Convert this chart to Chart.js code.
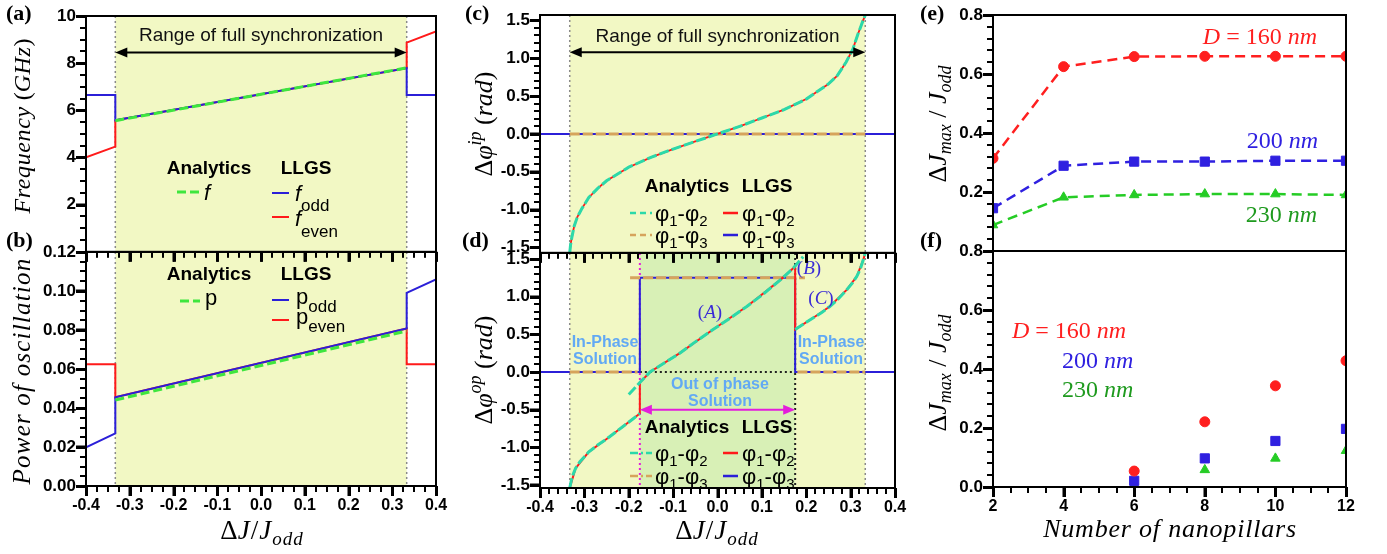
<!DOCTYPE html>
<html>
<head>
<meta charset="utf-8">
<title>Synchronization of nanopillar oscillators</title>
<script src="https://cdn.jsdelivr.net/npm/chart.js@4.4.1/dist/chart.umd.min.js"></script>
<style>
  html, body { margin: 0; padding: 0; background: #fff; }
  #wrap { position: relative; width: 1387px; height: 554px; overflow: hidden; }
  canvas { position: absolute; }
</style>
</head>
<body>
<div id="wrap">
  <canvas id="pb"></canvas><canvas id="pa"></canvas>
  <canvas id="pd"></canvas><canvas id="pc"></canvas>
  <canvas id="pf"></canvas><canvas id="pe"></canvas>
</div>
<script>
// ---------- values ----------
const syncEdge = 0.333;          // edge of the full synchronization range
const oppEdge = 0.175;           // edge of the out-of-phase solution

// (a) frequency (GHz)
const stepX  = [-0.4, -0.333, -0.333, 0.333, 0.333, 0.4];
const fOdd   = [6.65, 6.65, 5.58, 7.79, 6.65, 6.65];
const fEven  = [4.01, 4.46, 5.58, 7.79, 8.87, 9.35];
const anaX   = [-0.333, 0.333];
const fAna   = [5.56, 7.80];

// (b) power of oscillation
const pOdd   = [0.0198, 0.027, 0.0455, 0.0808, 0.099, 0.106];
const pEven  = [0.0625, 0.0625, 0.0455, 0.0808, 0.0625, 0.0625];
const pAna   = [0.0441, 0.0795];

// (c) in-phase phase difference (rad)
const phiXc  = [-0.333, -0.331, -0.328, -0.323, -0.316, -0.305, -0.29, -0.27, -0.25, -0.225, -0.2, -0.15, -0.1, -0.05, 0,
                0.05, 0.1, 0.15, 0.2, 0.225, 0.25, 0.27, 0.29, 0.305, 0.316, 0.323, 0.328, 0.331, 0.333];
const phi12c = [-1.57, -1.46, -1.36, -1.22, -1.10, -0.98, -0.84, -0.72, -0.62, -0.53, -0.44, -0.31, -0.20, -0.10, 0,
                0.10, 0.21, 0.32, 0.46, 0.56, 0.66, 0.77, 0.95, 1.12, 1.31, 1.42, 1.50, 1.54, 1.57];
const flatX  = [-0.4, 0.4];
const flat0  = [0, 0];

// (d) out-of-phase phase difference (rad), analytic branches
const leftX  = [-0.333, -0.328, -0.32, -0.31, -0.29, -0.27, -0.25, -0.23, -0.21, -0.19, -0.175];
const leftY  = [-1.54, -1.40, -1.28, -1.19, -1.06, -0.97, -0.89, -0.80, -0.71, -0.62, -0.55];
const brAX   = [-0.2, -0.175, -0.152, -0.12, -0.085, -0.05, -0.01, 0.03, 0.066, 0.10, 0.141, 0.171, 0.193];
const brAY   = [-0.30, -0.14, 0, 0.12, 0.25, 0.40, 0.565, 0.72, 0.87, 1.02, 1.22, 1.38, 1.53];
const brCX   = [0.175, 0.2, 0.216, 0.235, 0.253, 0.272, 0.291, 0.305, 0.314, 0.322, 0.329, 0.333];
const brCY   = [0.565, 0.66, 0.72, 0.79, 0.87, 0.97, 1.09, 1.19, 1.27, 1.37, 1.50, 1.58];
// (d) LLGS phi1-phi2
const llgsX  = [-0.333, -0.32, -0.29, -0.25, -0.21, -0.175, -0.175, -0.152, -0.085, -0.01, 0.066, 0.141, 0.175, 0.175, 0.216, 0.253, 0.291, 0.314, 0.329, 0.333];
const llgsY  = [-1.54, -1.28, -1.06, -0.89, -0.71, -0.55, -0.14, 0, 0.25, 0.565, 0.87, 1.22, 1.40, 0.565, 0.72, 0.87, 1.09, 1.27, 1.50, 1.58];
// (d) phi1-phi3
const p13X   = [-0.4, -0.175, -0.175, 0.175, 0.175, 0.4];
const p13Y   = [0, 0, 1.25, 1.25, 0, 0];
const tanLX  = [-0.333, -0.18];
const tanMX  = [-0.197, 0.197];
const tanRX  = [0.18, 0.333];
const tanMY  = [1.25, 1.25];

// (e) synchronized range vs number of nanopillars
const pillars = [2, 4, 6, 8, 10, 12];
const e160 = [0.314, 0.625, 0.659, 0.66, 0.66, 0.66];
const e200 = [0.145, 0.289, 0.303, 0.303, 0.306, 0.306];
const e230 = [0.088, 0.182, 0.19, 0.193, 0.193, 0.19];
// (f)
const pillarsF = [6, 8, 10, 12];
const f160 = [0.054, 0.221, 0.343, 0.428];
const f200 = [0.021, 0.097, 0.156, 0.197];
const f230 = [0.007, 0.058, 0.097, 0.123];

// tick labels
const xTicksJ = [-0.4, -0.3, -0.2, -0.1, 0, 0.1, 0.2, 0.3, 0.4];
const yTicksA = [2, 4, 6, 8, 10];
const yTicksB = [0, 0.02, 0.04, 0.06, 0.08, 0.10, 0.12];
const yTicksPhi = [-1.5, -1.0, -0.5, 0, 0.5, 1.0, 1.5];
const yTicksE = [0.2, 0.4, 0.6, 0.8];
const yTicksF = [0, 0.2, 0.4, 0.6, 0.8];
const xTicksN = [2, 4, 6, 8, 10, 12];

// ---------- styling ----------
const CLR = {
  blue: '#2b1fd8', red: '#ff1a1a', green: '#3ee63e', cyan: '#2cd9a9', tan: '#d6a45c',
  band: '#f2f8c4', inner: '#d8f0b6', lblue: '#62a9f4', mag: '#e31edb', grey: '#8a8a8a',
  eRed: '#ff1f1f', eBlue: '#2f20e0', eGreen: '#25cc25', dGreen: '#1e9a1e', lab: '#3a2bd6'
};
const TICK = '#000';
const SI = s => 'italic ' + s + 'px "Liberation Serif"';
const SR = s => s + 'px "Liberation Serif"';
const SB = s => 'bold ' + s + 'px "Liberation Serif"';
const AB = s => 'bold ' + s + 'px "Liberation Sans"';
const AR = s => s + 'px "Liberation Sans"';
const AI = s => 'italic ' + s + 'px "Liberation Sans"';

function pts(xs, ys) { return xs.map((x, i) => ({ x: x, y: ys[i] })); }
function joinSegs(parts) {
  const out = [];
  parts.forEach((p, k) => {
    if (k) out.push({ x: p[0][0], y: null });
    out.push(...pts(p[0], p[1]));
  });
  return out;
}
function line(data, color, width, dash, order) {
  return { data: data, borderColor: color, borderWidth: width, borderDash: dash || [],
           pointRadius: 0, fill: false, spanGaps: false, order: order || 0 };
}
function minorTicks(min, max, step, majors) {
  const out = [];
  for (let k = 0; ; k++) {
    const v = +(min + k * step).toFixed(6);
    if (v > max + 1e-9) break;
    if (!majors.some(m => Math.abs(m - v) < 1e-9)) out.push(v);
  }
  return out;
}

// segs: [text, font, dy, color, letterSpacing]
function rich(ctx, x, y, segs, align, rot) {
  ctx.save();
  ctx.translate(x, y);
  if (rot) ctx.rotate(rot);
  ctx.textBaseline = 'alphabetic';
  ctx.textAlign = 'left';
  let w = 0;
  segs.forEach(s => { ctx.font = s[1]; ctx.letterSpacing = (s[4] || 0) + 'px'; w += ctx.measureText(s[0]).width; });
  let cx = align === 'left' ? 0 : align === 'right' ? -w : -w / 2;
  segs.forEach(s => {
    ctx.font = s[1];
    ctx.letterSpacing = (s[4] || 0) + 'px';
    ctx.fillStyle = s[3] || '#000';
    ctx.fillText(s[0], cx, s[2] || 0);
    cx += ctx.measureText(s[0]).width;
  });
  ctx.letterSpacing = '0px';
  ctx.restore();
}
function tint(segs, col) { return segs.map(s => [s[0], s[1], s[2] || 0, col, s[4] || 0]); }

// drawing helpers in data coordinates
const PX = (c, v) => c.scales.x.getPixelForValue(v);
const PY = (c, v) => c.scales.y.getPixelForValue(v);
function band(c, x0, x1, col) {
  const a = c.chartArea;
  c.ctx.fillStyle = col;
  c.ctx.fillRect(PX(c, x0), a.top, PX(c, x1) - PX(c, x0), a.bottom - a.top);
}
function dotted(c, x0, y0, x1, y1, col, w) {
  const ctx = c.ctx;
  ctx.save();
  ctx.strokeStyle = col; ctx.lineWidth = w || 1.5; ctx.setLineDash([2, 3]);
  ctx.beginPath();
  ctx.moveTo(x0, y0); ctx.lineTo(x1, y1);
  ctx.stroke();
  ctx.restore();
}
function vdot(c, v, col, w) {
  const a = c.chartArea, x = PX(c, v);
  dotted(c, x, a.top, x, a.bottom, col || CLR.grey, w);
}
function arrow2(c, v0, v1, yv, col, w) {
  const ctx = c.ctx, x0 = PX(c, v0), x1 = PX(c, v1), y = PY(c, yv);
  ctx.save();
  ctx.strokeStyle = col; ctx.fillStyle = col; ctx.lineWidth = w || 2;
  ctx.beginPath(); ctx.moveTo(x0 + 6, y); ctx.lineTo(x1 - 6, y); ctx.stroke();
  ctx.beginPath(); ctx.moveTo(x0, y); ctx.lineTo(x0 + 12, y - 5); ctx.lineTo(x0 + 12, y + 5); ctx.closePath(); ctx.fill();
  ctx.beginPath(); ctx.moveTo(x1, y); ctx.lineTo(x1 - 12, y - 5); ctx.lineTo(x1 - 12, y + 5); ctx.closePath(); ctx.fill();
  ctx.restore();
}
function sample(ctx, o, x0, x1, y, col, w, dash) {
  ctx.save();
  ctx.strokeStyle = col; ctx.lineWidth = w; ctx.setLineDash(dash || []);
  ctx.beginPath(); ctx.moveTo(x0 - o.x, y - o.y); ctx.lineTo(x1 - o.x, y - o.y); ctx.stroke();
  ctx.restore();
}
function txt(ctx, o, x, y, segs, align, rot) { rich(ctx, x - o.x, y - o.y, segs, align, rot); }

// tick marks, major and minor, drawn as small filled bars outside the plot
function drawTicks(c, cfg) {
  const ctx = c.ctx, a = c.chartArea;
  ctx.save();
  ctx.fillStyle = TICK;
  const xt = (v, len, w) => { const x = Math.round(PX(c, v)); ctx.fillRect(x - 1, a.bottom, w, len); };
  const yt = (v, len, w) => { const y = Math.round(PY(c, v)); ctx.fillRect(a.left - len, y - 1, len, w); };
  if (cfg.xMarks !== false) cfg.xTicks.forEach(v => xt(v, 10, 3));
  (cfg.xMinor || []).forEach(v => xt(v, 6, 2));
  cfg.yTicks.forEach(v => yt(v, 10, 3));
  (cfg.yMinor || []).forEach(v => yt(v, 6, 2));
  ctx.restore();
}

// ---------- one chart per panel ----------
function makePanel(id, box, area, cfg) {
  const cv = document.getElementById(id);
  cv.width = box.w; cv.height = box.h;
  Object.assign(cv.style, { left: box.x + 'px', top: box.y + 'px', width: box.w + 'px', height: box.h + 'px', zIndex: box.z });
  const tickFont = { family: 'Liberation Sans', weight: 'bold', size: 16 };
  const grid = { display: true, drawOnChartArea: false, drawTicks: true, tickLength: 10, tickWidth: 2, tickColor: TICK };
  const deco = {
    id: 'deco_' + id,
    beforeDatasetsDraw(c) {
      c.ctx.save();
      if (cfg.under) cfg.under(c, c.ctx, box);
      c.ctx.restore();
    },
    afterDraw(c) {
      const ctx = c.ctx, a = c.chartArea;
      ctx.save();
      ctx.setLineDash([]);
      ctx.strokeStyle = '#000'; ctx.lineWidth = 2;
      ctx.strokeRect(a.left, a.top, a.right - a.left, a.bottom - a.top);
      ctx.restore();
      drawTicks(c, cfg);
      ctx.save();
      if (cfg.over) cfg.over(c, ctx, box);
      ctx.restore();
    }
  };
  return new Chart(cv.getContext('2d'), {
    type: 'line',
    data: { datasets: cfg.datasets },
    options: {
      responsive: false, animation: false, devicePixelRatio: 1,
      layout: { padding: { top: area.t - box.y, right: box.x + box.w - area.r, left: 0, bottom: 0 } },
      plugins: { legend: { display: false }, tooltip: { enabled: false } },
      scales: {
        x: {
          type: 'linear', min: cfg.xMin, max: cfg.xMax,
          afterBuildTicks: s => { s.ticks = cfg.xTicks.map(v => ({ value: v })); },
          afterFit: s => { s.height = box.y + box.h - area.b; },
          ticks: { display: cfg.xLabels, font: tickFont, color: '#000', padding: 0, maxRotation: 0, autoSkip: false, callback: cfg.xFmt },
          grid: Object.assign({}, grid, { drawTicks: cfg.xMarks !== false }),
          border: { display: true, color: '#000', width: 2 }
        },
        y: {
          type: 'linear', min: cfg.yMin, max: cfg.yMax,
          afterBuildTicks: s => { s.ticks = cfg.yTicks.map(v => ({ value: v })); },
          afterFit: s => { s.width = area.l - box.x; },
          ticks: { font: Object.assign({}, tickFont, { size: 17 }), color: '#000', padding: 0, autoSkip: false, callback: cfg.yFmt },
          grid: grid,
          border: { display: true, color: '#000', width: 2 }
        }
      }
    },
    plugins: [deco]
  });
}

const fmt1 = v => v.toFixed(1);
const fmt2 = v => v.toFixed(2);
const fmt0 = v => String(v);
const ROT = -Math.PI / 2;

const dJTitle = [['Δ', SR(27)], ['J', SI(27), 0, 0, 1], ['/', SR(27), 0, 0, 1], ['J', SI(27), 0, 0, 1], ['odd', SI(19), 6, 0, 1]];
const phiLeg = (a, b) => [['φ', AR(22)], [a, AR(15), 5], ['-', AR(22)], ['φ', AR(22)], [b, AR(15), 5]];
const letter = s => [[s, SB(22)]];

// (a)
makePanel('pa', { x: 0, y: 0, w: 460, h: 262, z: 2 }, { l: 86, t: 16, r: 436, b: 252 }, {
  xMin: -0.4, xMax: 0.4, xTicks: xTicksJ, xLabels: false, xFmt: fmt1,
  yMin: 0, yMax: 10, yTicks: yTicksA, yFmt: fmt0,
  xMinor: minorTicks(-0.4, 0.4, 0.025, xTicksJ), yMinor: minorTicks(0, 10, 0.5, [0].concat(yTicksA)),
  datasets: [
    line(pts(anaX, fAna), CLR.green, 3, [9, 4], 0),
    line(pts(stepX, fOdd), CLR.blue, 2, [], 1),
    line(pts(stepX, fEven), CLR.red, 2, [], 2)
  ],
  under(c) { band(c, -syncEdge, syncEdge, CLR.band); vdot(c, -syncEdge); vdot(c, syncEdge); },
  over(c, ctx, o) {
    arrow2(c, -syncEdge, syncEdge, 8.45, '#000', 2);
    txt(ctx, o, PX(c, 0) + o.x, 41, [['Range of full synchronization', AR(19), 0, '#111']], 'center');
    txt(ctx, o, 209, 174, [['Analytics', AB(19)]], 'center');
    txt(ctx, o, 306, 174, [['LLGS', AB(19)]], 'center');
    sample(ctx, o, 177, 200, 192, CLR.green, 3, [9, 4]);
    txt(ctx, o, 204, 200, [['f', AI(22)]], 'left');
    sample(ctx, o, 272, 289, 193, CLR.blue, 2);
    txt(ctx, o, 295, 201, [['f', AI(22)], ['odd', AR(17), 10]], 'left');
    sample(ctx, o, 272, 289, 217, CLR.red, 2);
    txt(ctx, o, 295, 226, [['f', AI(22)], ['even', AR(17), 11]], 'left');
    txt(ctx, o, 30, 126, [['Frequency', SI(24), 0, 0, 0.6], [' (', SR(24)], ['GHz', SI(24), 0, 0, 0.6], [')', SR(24)]], 'center', ROT);
    txt(ctx, o, 6, 20, letter('(a)'), 'left');
    txt(ctx, o, 6, 247, letter('(b)'), 'left');
  }
});

// (b)
makePanel('pb', { x: 0, y: 240, w: 460, h: 314, z: 1 }, { l: 86, t: 252, r: 436, b: 486 }, {
  xMin: -0.4, xMax: 0.4, xTicks: xTicksJ, xLabels: true, xFmt: fmt1,
  yMin: 0, yMax: 0.12, yTicks: yTicksB, yFmt: fmt2,
  xMinor: minorTicks(-0.4, 0.4, 0.025, xTicksJ), yMinor: minorTicks(0, 0.12, 0.005, yTicksB),
  datasets: [
    line(pts(anaX, pAna), CLR.green, 3, [9, 4], 0),
    line(pts(stepX, pOdd), CLR.blue, 2, [], 1),
    line(pts(stepX, pEven), CLR.red, 2, [], 2)
  ],
  under(c) { band(c, -syncEdge, syncEdge, CLR.band); vdot(c, -syncEdge); vdot(c, syncEdge); },
  over(c, ctx, o) {
    txt(ctx, o, 209, 280, [['Analytics', AB(19)]], 'center');
    txt(ctx, o, 306, 280, [['LLGS', AB(19)]], 'center');
    sample(ctx, o, 180, 200, 301, CLR.green, 3, [9, 4]);
    txt(ctx, o, 205, 305, [['p', AR(22)]], 'left');
    sample(ctx, o, 272, 289, 300, CLR.blue, 2);
    txt(ctx, o, 296, 304, [['p', AR(22)], ['odd', AR(17), 8]], 'left');
    sample(ctx, o, 272, 289, 320, CLR.red, 2);
    txt(ctx, o, 296, 324, [['p', AR(22)], ['even', AR(17), 8]], 'left');
    txt(ctx, o, 30, 371, [['Power of oscillation', SI(25), 0, 0, 1.2]], 'center', ROT);
    txt(ctx, o, 262, 539, dJTitle, 'center');
  }
});

// (c)
makePanel('pc', { x: 460, y: 0, w: 460, h: 263, z: 2 }, { l: 540, t: 15, r: 895, b: 253 }, {
  xMin: -0.4, xMax: 0.4, xTicks: xTicksJ, xLabels: false, xFmt: fmt1,
  yMin: -1.5708, yMax: 1.5708, yTicks: yTicksPhi, yFmt: fmt1,
  xMinor: minorTicks(-0.4, 0.4, 0.02, xTicksJ), yMinor: minorTicks(-1.5, 1.5, 0.1, yTicksPhi),
  datasets: [
    line(pts(phiXc, phi12c), CLR.cyan, 3, [10, 3], 0),
    line(pts(phiXc, phi12c), CLR.red, 1.8, [], 1),
    line(pts(anaX, flat0), CLR.tan, 3, [10, 3], 2),
    line(pts(flatX, flat0), CLR.blue, 2, [], 3)
  ],
  under(c) { band(c, -syncEdge, syncEdge, CLR.band); vdot(c, -syncEdge); vdot(c, syncEdge); },
  over(c, ctx, o) {
    arrow2(c, -syncEdge, syncEdge, 1.08, '#000', 2);
    txt(ctx, o, PX(c, 0) + o.x, 42, [['Range of full synchronization', AR(19), 0, '#111']], 'center');
    txt(ctx, o, 687, 192, [['Analytics', AB(19)]], 'center');
    txt(ctx, o, 767, 192, [['LLGS', AB(19)]], 'center');
    sample(ctx, o, 630, 652, 213, CLR.cyan, 2.5, [6, 4]);
    txt(ctx, o, 655, 221, phiLeg('1', '2'), 'left');
    sample(ctx, o, 723, 738, 213, CLR.red, 2.5);
    txt(ctx, o, 742, 221, phiLeg('1', '2'), 'left');
    sample(ctx, o, 630, 652, 235, CLR.tan, 2.5, [6, 4]);
    txt(ctx, o, 655, 243, phiLeg('1', '3'), 'left');
    sample(ctx, o, 723, 738, 235, CLR.blue, 2.5);
    txt(ctx, o, 742, 243, phiLeg('1', '3'), 'left');
    txt(ctx, o, 492, 124, [['Δ', SR(26)], ['φ', SI(26)], ['ip', SI(18), -11], [' (', SR(26)], ['rad', SI(26)], [')', SR(26)]], 'center', ROT);
    txt(ctx, o, 465, 20, letter('(c)'), 'left');
    txt(ctx, o, 462, 247, letter('(d)'), 'left');
  }
});

// (d)
makePanel('pd', { x: 460, y: 240, w: 460, h: 314, z: 1 }, { l: 540, t: 253, r: 895, b: 488 }, {
  xMin: -0.4, xMax: 0.4, xTicks: xTicksJ, xLabels: true, xFmt: fmt1,
  yMin: -1.54, yMax: 1.58, yTicks: yTicksPhi, yFmt: fmt1,
  xMinor: minorTicks(-0.4, 0.4, 0.02, xTicksJ), yMinor: minorTicks(-1.5, 1.5, 0.1, yTicksPhi),
  datasets: [
    line(joinSegs([[leftX, leftY], [brAX, brAY], [brCX, brCY]]), CLR.cyan, 3, [10, 3], 0),
    line(pts(llgsX, llgsY), CLR.red, 2, [], 1),
    line(joinSegs([[tanLX, flat0], [tanMX, tanMY], [tanRX, flat0]]), CLR.tan, 3, [10, 3], 2),
    line(pts(p13X, p13Y), CLR.blue, 2, [], 3)
  ],
  under(c) {
    band(c, -syncEdge, syncEdge, CLR.band);
    band(c, -oppEdge, oppEdge, CLR.inner);
    vdot(c, -syncEdge); vdot(c, syncEdge);
    vdot(c, -oppEdge, CLR.mag, 2);
    vdot(c, oppEdge, '#222', 2);
    dotted(c, PX(c, -oppEdge), PY(c, 0), PX(c, oppEdge), PY(c, 0), '#222', 2);
  },
  over(c, ctx, o) {
    arrow2(c, -oppEdge, oppEdge, -0.5, CLR.mag, 2);
    const lb = s => [[s, AB(16), 0, CLR.lblue]];
    txt(ctx, o, 605, 347, lb('In-Phase'), 'center');
    txt(ctx, o, 605, 364, lb('Solution'), 'center');
    txt(ctx, o, 831, 347, lb('In-Phase'), 'center');
    txt(ctx, o, 831, 364, lb('Solution'), 'center');
    txt(ctx, o, 720, 389, lb('Out of phase'), 'center');
    txt(ctx, o, 720, 406, lb('Solution'), 'center');
    const ab = s => tint([['(', SR(19)], [s, SI(19)], [')', SR(19)]], CLR.lab);
    txt(ctx, o, 710, 318, ab('A'), 'center');
    txt(ctx, o, 809, 274, ab('B'), 'center');
    txt(ctx, o, 821, 304, ab('C'), 'center');
    txt(ctx, o, 687, 433, [['Analytics', AB(19)]], 'center');
    txt(ctx, o, 767, 433, [['LLGS', AB(19)]], 'center');
    sample(ctx, o, 630, 652, 453, CLR.cyan, 2.5, [8, 3, 2, 3]);
    txt(ctx, o, 655, 461, phiLeg('1', '2'), 'left');
    sample(ctx, o, 723, 738, 453, CLR.red, 2.5);
    txt(ctx, o, 742, 461, phiLeg('1', '2'), 'left');
    sample(ctx, o, 630, 652, 476, CLR.tan, 2.5, [8, 3, 2, 3]);
    txt(ctx, o, 655, 484, phiLeg('1', '3'), 'left');
    sample(ctx, o, 723, 738, 476, CLR.blue, 2.5);
    txt(ctx, o, 742, 484, phiLeg('1', '3'), 'left');
    txt(ctx, o, 492, 370, [['Δ', SR(26)], ['φ', SI(26)], ['op', SI(18), -11], [' (', SR(26)], ['rad', SI(26)], [')', SR(26)]], 'center', ROT);
    txt(ctx, o, 717, 539, dJTitle, 'center');
  }
});

// (e)
const jTitle = [['Δ', SR(26)], ['J', SI(26)], ['max', SI(18), 5], [' / ', SR(26)], ['J', SI(26)], ['odd', SI(18), 5]];
const nmLab = (n, withD) => (withD ? [['D', SI(24)], [' = ', SR(24)]] : []).concat([[n, SR(24)], [' ', SR(24)], ['nm', SI(24)]]);
function markers(xs, ys, col, style, r, dash) {
  return { data: pts(xs, ys), borderColor: col, backgroundColor: col, borderWidth: dash ? 2.5 : 0, borderDash: dash || [],
           showLine: !!dash, pointStyle: style, pointRadius: r, pointBackgroundColor: col, pointBorderColor: col,
           pointBorderWidth: 1, fill: false };
}
makePanel('pe', { x: 910, y: 0, w: 477, h: 262, z: 2 }, { l: 993, t: 15, r: 1346, b: 251 }, {
  xMin: 2, xMax: 12, xTicks: xTicksN, xLabels: false, xMarks: false, xFmt: fmt0,
  yMin: 0, yMax: 0.8, yTicks: yTicksE, yFmt: fmt1,
  yMinor: minorTicks(0, 0.8, 0.04, [0].concat(yTicksE)),
  datasets: [
    markers(pillars, e160, CLR.eRed, 'circle', 5, [10, 6]),
    markers(pillars, e200, CLR.eBlue, 'rect', 6.5, [10, 6]),
    markers(pillars, e230, CLR.eGreen, 'triangle', 5.5, [10, 6])
  ],
  over(c, ctx, o) {
    txt(ctx, o, 1317, 44, tint(nmLab('160', true), CLR.eRed), 'right');
    txt(ctx, o, 1318, 148, tint(nmLab('200'), CLR.eBlue), 'right');
    txt(ctx, o, 1317, 222, tint(nmLab('230'), CLR.dGreen), 'right');
    txt(ctx, o, 946, 124, jTitle, 'center', ROT);
    txt(ctx, o, 920, 20, letter('(e)'), 'left');
    txt(ctx, o, 920, 247, letter('(f)'), 'left');
  }
});

// (f)
makePanel('pf', { x: 910, y: 240, w: 477, h: 314, z: 1 }, { l: 993, t: 251, r: 1346, b: 487 }, {
  xMin: 2, xMax: 12, xTicks: xTicksN, xLabels: true, xFmt: fmt0,
  yMin: 0, yMax: 0.8, yTicks: yTicksF, yFmt: fmt1,
  xMinor: minorTicks(2, 12, 0.5, xTicksN), yMinor: minorTicks(0, 0.8, 0.04, yTicksF),
  datasets: [
    markers(pillarsF, f160, CLR.eRed, 'circle', 5),
    markers(pillarsF, f200, CLR.eBlue, 'rect', 6.5),
    markers(pillarsF, f230, CLR.eGreen, 'triangle', 5.5)
  ],
  over(c, ctx, o) {
    txt(ctx, o, 1012, 338, tint(nmLab('160', true), CLR.eRed), 'left');
    txt(ctx, o, 1062, 368, tint(nmLab('200'), CLR.eBlue), 'left');
    txt(ctx, o, 1062, 397, tint(nmLab('230'), CLR.dGreen), 'left');
    txt(ctx, o, 946, 373, jTitle, 'center', ROT);
    txt(ctx, o, 1170, 537, [['Number of nanopillars', SI(26), 0, 0, 0.8]], 'center');
  }
});
</script>
</body>
</html>
